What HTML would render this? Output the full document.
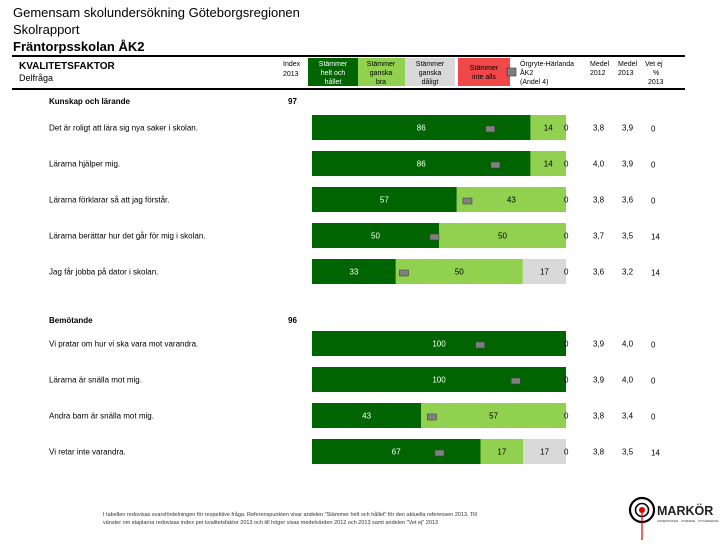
<!DOCTYPE html>
<html><head><meta charset="utf-8">
<style>
body{margin:0;background:#fff;font-family:"Liberation Sans",sans-serif;}
svg text{font-family:"Liberation Sans",sans-serif;}
</style></head>
<body>
<svg id="c" width="720" height="540" xmlns="http://www.w3.org/2000/svg">
<text x="13" y="17" font-size="13" fill="#000">Gemensam skolundersökning Göteborgsregionen</text>
<text x="13" y="34" font-size="13" fill="#000">Skolrapport</text>
<text x="13" y="51" font-size="13" font-weight="bold" fill="#000">Fräntorpsskolan ÅK2</text>
<line x1="12" y1="56" x2="685" y2="56" stroke="#000" stroke-width="2"/>
<line x1="12" y1="89" x2="685" y2="89" stroke="#000" stroke-width="2"/>
<text x="19" y="69" font-size="10" font-weight="bold">KVALITETSFAKTOR</text>
<text x="19" y="81" font-size="9">Delfråga</text>
<text x="283" y="66" font-size="7">Index</text>
<text x="283" y="76" font-size="7">2013</text>
<g>
<rect x="308" y="58" width="50" height="28" fill="#006400"/>
<text x="333" y="66" font-size="7" fill="#fff" text-anchor="middle"><tspan x="333">Stämmer</tspan><tspan x="333" dy="9">helt och</tspan><tspan x="333" dy="9">hållet</tspan></text>
<rect x="358" y="58" width="47" height="28" fill="#92d050"/>
<text x="381" y="66" font-size="7" fill="#000" text-anchor="middle"><tspan x="381">Stämmer</tspan><tspan x="381" dy="9">ganska</tspan><tspan x="381" dy="9">bra</tspan></text>
<rect x="405" y="58" width="50" height="28" fill="#d9d9d9"/>
<text x="430" y="66" font-size="7" fill="#000" text-anchor="middle"><tspan x="430">Stämmer</tspan><tspan x="430" dy="9">ganska</tspan><tspan x="430" dy="9">dåligt</tspan></text>
<rect x="458" y="58" width="52" height="28" fill="#f04848"/>
<text x="484" y="70" font-size="7" fill="#000" text-anchor="middle"><tspan x="484">Stämmer</tspan><tspan x="484" dy="9">inte alls</tspan></text>
<rect x="507" y="68" width="9" height="8" fill="#808080" stroke="#333" stroke-width="0.6"/>
<text x="520" y="66" font-size="7"><tspan x="520">Örgryte-Härlanda</tspan><tspan x="520" dy="9">ÅK2</tspan><tspan x="520" dy="9">(Andel 4)</tspan></text>
<text x="590" y="66" font-size="7"><tspan x="590">Medel</tspan><tspan x="590" dy="9">2012</tspan></text>
<text x="618" y="66" font-size="7"><tspan x="618">Medel</tspan><tspan x="618" dy="9">2013</tspan></text>
<text x="645" y="66" font-size="7"><tspan x="645">Vet ej</tspan><tspan x="653" dy="9">%</tspan><tspan x="648" dy="9">2013</tspan></text>
</g>
<text x="49" y="104" font-size="8" font-weight="bold">Kunskap och lärande</text>
<text x="288" y="104" font-size="8" font-weight="bold">97</text>
<text x="49" y="323" font-size="8" font-weight="bold">Bemötande</text>
<text x="288" y="323" font-size="8" font-weight="bold">96</text>
<g id="rows"></g>
<text x="103" y="516" font-size="5.5" fill="#333">I tabellen redovisas svarsfördelningen för respektive fråga. Referenspunkten visar andelen "Stämmer helt och hållet" för den aktuella referensen 2013. Till</text>
<text x="103" y="524" font-size="5.5" fill="#333">vänster om staplarna redovisas index per kvalitetsfaktor 2013 och till höger visas medelvärden 2012 och 2013 samt andelen "Vet ej" 2013</text>
<g>
<circle cx="642" cy="510" r="12" fill="none" stroke="#000" stroke-width="2.2"/>
<circle cx="642" cy="510" r="6.5" fill="none" stroke="#000" stroke-width="1.6"/>
<circle cx="642" cy="510" r="3" fill="#d00"/>
<line x1="642" y1="510" x2="642" y2="540" stroke="#d00" stroke-width="1.2"/>
<text x="657" y="515" font-size="12.5" font-weight="bold" fill="#222">MARKÖR</text>
<text x="657" y="522" font-size="3" fill="#333">UNDERSÖKER · UTREDER · UTVÄRDERAR</text>
</g>
</svg>
<script>
const questions=["Det är roligt att lära sig nya saker i skolan.","Lärarna hjälper mig.","Lärarna förklarar så att jag förstår.","Lärarna berättar hur det går för mig i skolan.","Jag får jobba på dator i skolan.","Vi pratar om hur vi ska vara mot varandra.","Lärarna är snälla mot mig.","Andra barn är snälla mot mig.","Vi retar inte varandra."];
const helt=[86,86,57,50,33,100,100,43,67];
const ganskaBra=[14,14,43,50,50,0,0,57,17];
const ganskaDaligt=[0,0,0,0,17,0,0,0,17];
const inteAlls=[0,0,0,0,0,0,0,0,0];
const reference=[70,72,61,48,36,66,80,47,50];
const medel2012=["3,8","4,0","3,8","3,7","3,6","3,9","3,9","3,8","3,8"];
const medel2013=["3,9","3,9","3,6","3,5","3,2","4,0","4,0","3,4","3,5"];
const vetEj=[0,0,0,14,14,0,0,0,14];
const rowY=[115,151,187,223,259,331,367,403,439];
const X0=312,W=254,H=25;
function xs(p){return X0+p/100*W;}
const g=document.getElementById('rows');
const NS="http://www.w3.org/2000/svg";
function mk(tag,attrs,txt){const e=document.createElementNS(NS,tag);for(const k in attrs)e.setAttribute(k,attrs[k]);if(txt!==undefined)e.textContent=txt;g.appendChild(e);return e;}
const cols=["#006400","#92d050","#d9d9d9","#f04848"];
const tcol=["#fff","#000","#000","#000"];
questions.forEach((q,i)=>{
  const y=rowY[i];
  const t=mk('text',{x:49,y:y+H/2+3,'font-size':8},q);
  
  
  const vals=[helt[i],ganskaBra[i],ganskaDaligt[i],inteAlls[i]];
  const tot=Math.max(100,vals.reduce((s,v)=>s+v,0));
  let acc=0;
  vals.forEach((v,k)=>{
    if(v>0){
      const x1=xs(acc*100/tot),x2=xs((acc+v)*100/tot);
      const r=mk('rect',{x:x1,y:y,width:x2-x1,height:H,fill:cols[k]});
      
      
      const tx=mk('text',{x:(x1+x2)/2,y:y+H/2+3,'font-size':8,fill:tcol[k],'text-anchor':'middle'},v);
      
      
    }
    acc+=v;
  });
  const z=mk('text',{x:xs(100)-2,y:y+H/2+3,'font-size':8},inteAlls[i]);
  
  
  const m=mk('rect',{x:xs(reference[i])-4,y:y+11,width:9,height:6,fill:'#808080',stroke:'#444','stroke-width':0.6});
  
  
  const a=mk('text',{x:593,y:y+H/2+3,'font-size':8},medel2012[i]);
  
  
  const b=mk('text',{x:622,y:y+H/2+3,'font-size':8},medel2013[i]);
  
  
  const c=mk('text',{x:651,y:y+H/2+4,'font-size':8},vetEj[i]);
  
  
});
</script>
</body></html>
